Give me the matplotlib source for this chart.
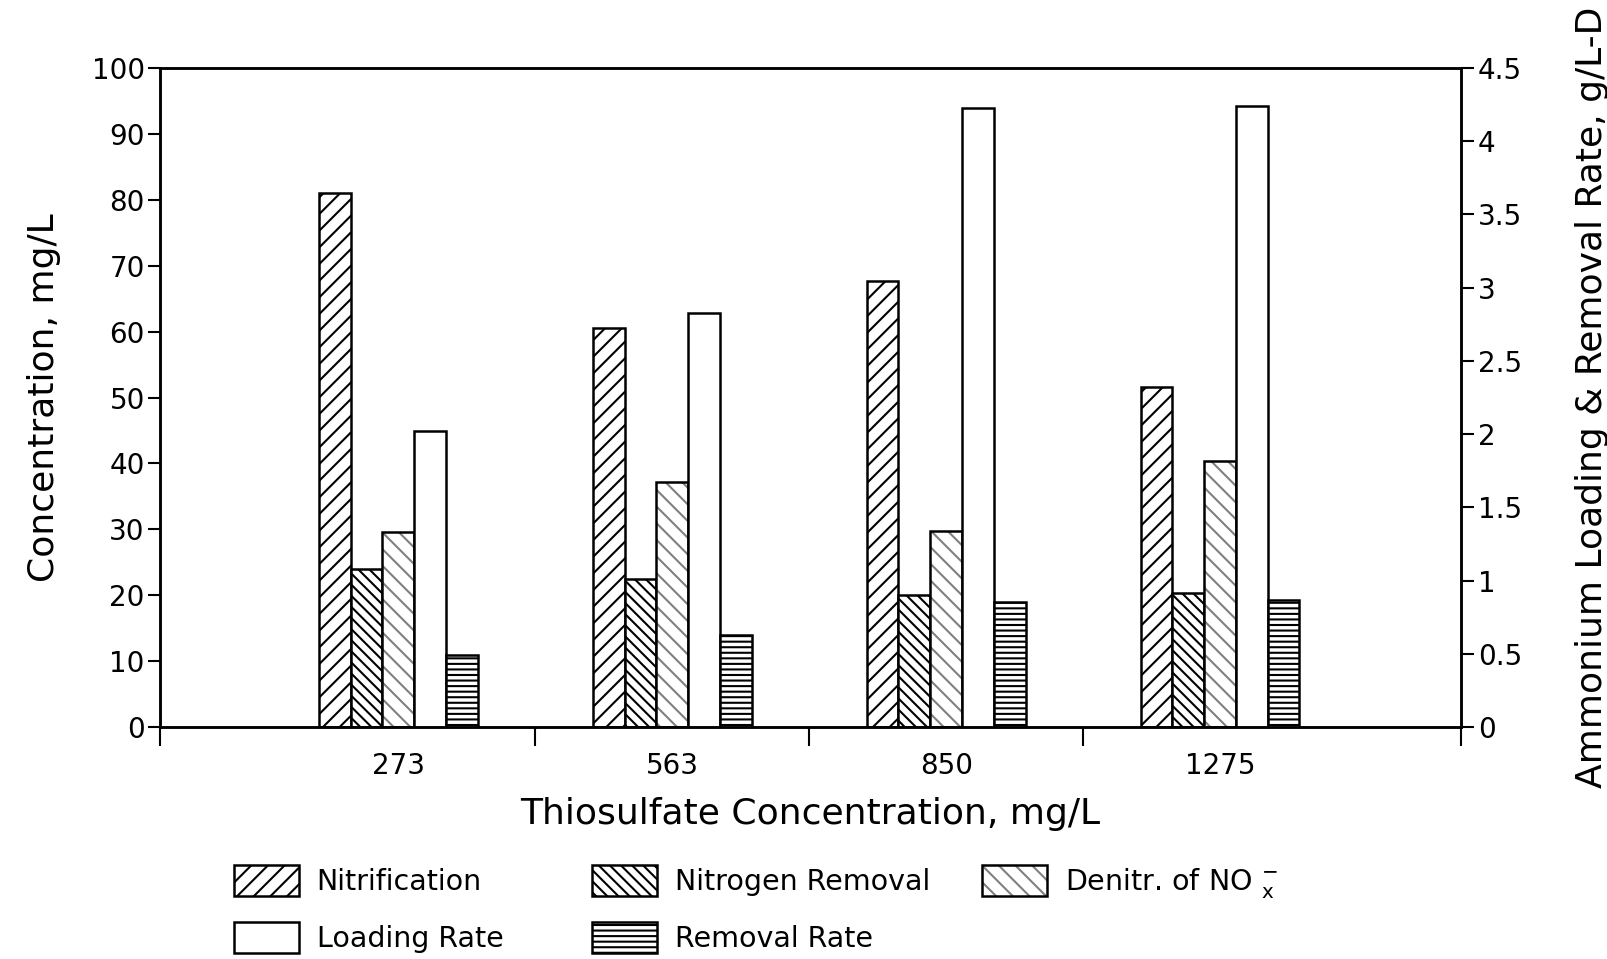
import matplotlib.pyplot as plt
import numpy as np

plt.rcParams['font.family'] = 'DejaVu Sans'
plt.rcParams['hatch.linewidth'] = 1.5

# dados
categories = ['273', '563', '850', '1275']
nitrification = [81.0, 60.6, 67.7, 51.6]
nitrogen_removal = [23.9, 22.4, 20.0, 20.4]
denitrification = [29.6, 37.2, 29.7, 40.3]
# eixo da direita (g/L-D)
loading_rate = [2.02, 2.83, 4.23, 4.24]
removal_rate = [0.49, 0.63, 0.85, 0.87]

fig = plt.figure(figsize=(16.07, 9.59), dpi=100)
ax = fig.add_axes([0.0996, 0.242, 0.8096, 0.687])
ax2 = ax.twinx()

x = np.arange(len(categories))
w = 0.116
off = (np.arange(5) - 2) * w
lw = 1.8

b_nit = ax.bar(x + off[0], nitrification, w, facecolor='white', edgecolor='black',
               hatch='//', linewidth=lw)
b_nr = ax.bar(x + off[1], nitrogen_removal, w, facecolor='white', edgecolor='black',
              hatch='\\\\\\', linewidth=lw)
# hachura cinza + contorno preto
b_den_h = ax.bar(x + off[2], denitrification, w, facecolor='white', edgecolor='0.5',
                 hatch='\\\\', linewidth=0)
b_den = ax.bar(x + off[2], denitrification, w, facecolor='none', edgecolor='black',
               linewidth=lw)
b_load = ax2.bar(x + off[3], loading_rate, w, facecolor='white', edgecolor='black',
                 linewidth=lw)
b_rem = ax2.bar(x + off[4], removal_rate, w, facecolor='white', edgecolor='black',
                hatch='---', linewidth=lw)

ax.set_xlim(-0.87, 3.88)
ax.set_ylim(0, 100)
ax2.set_ylim(0, 4.5)

ax.set_yticks(np.arange(0, 101, 10))
ax2.set_yticks(np.arange(0, 4.51, 0.5))
ax2.set_yticklabels(['0', '0.5', '1', '1.5', '2', '2.5', '3', '3.5', '4', '4.5'])

ax.set_xticks(x)
ax.set_xticklabels(categories)
ax.set_xticks([-0.87, 0.5, 1.5, 2.5, 3.88], minor=True)
ax.tick_params(axis='x', which='major', length=0, pad=18, labelsize=20)
ax.tick_params(axis='x', which='minor', length=14, width=1.5, direction='out')
ax.tick_params(axis='y', length=9, width=1.5, pad=2, labelsize=20)
ax2.tick_params(axis='y', length=9, width=1.5, pad=3, labelsize=20)

for a in (ax, ax2):
    for s in a.spines.values():
        s.set_linewidth(1.8)

ax.set_xlabel('Thiosulfate Concentration, mg/L', fontsize=26, labelpad=12)
ax.set_ylabel('Concentration, mg/L', fontsize=26, labelpad=22)
ax2.set_ylabel('Ammonium Loading & Removal Rate, g/L-D', fontsize=26, labelpad=38)

# legenda em tres colunas
cols = [
    ([b_nit, b_load], ['Nitrification', 'Loading Rate'], 234),
    ([b_nr, b_rem], ['Nitrogen Removal', 'Removal Rate'], 592),
    ([(b_den_h, b_den)], [r'Denitr. of NO $_{\mathrm{x}}^{-}$'], 982),
]
for handles, labels, px in cols:
    fig.legend(handles, labels, loc='upper left',
               bbox_to_anchor=(px / 1607, 1 - 865 / 959),
               frameon=False, fontsize=20.5, handlelength=2.3, handleheight=1.3,
               handletextpad=0.6, labelspacing=0.9, borderpad=0, borderaxespad=0)

fig.savefig('out.png', dpi=100)
